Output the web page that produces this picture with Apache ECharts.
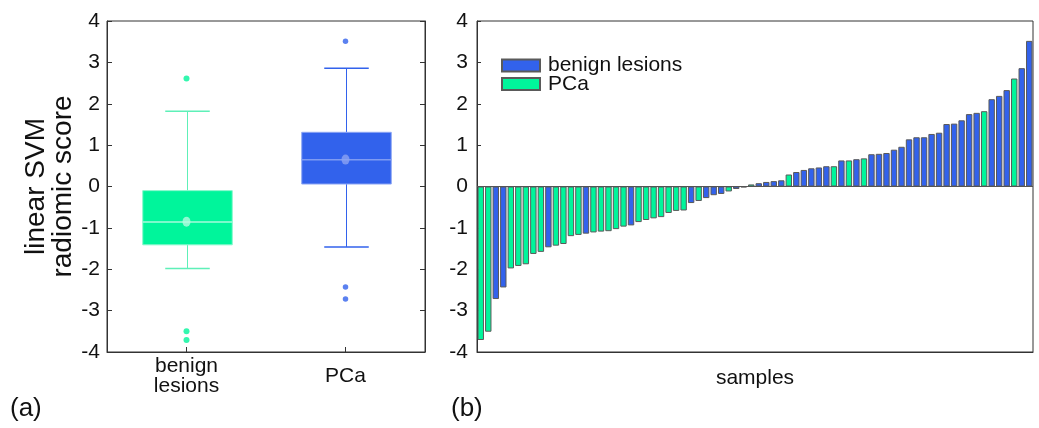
<!DOCTYPE html>
<html><head><meta charset="utf-8">
<script src="https://cdn.jsdelivr.net/npm/echarts@6/dist/echarts.min.js"></script>
<style>html,body{margin:0;padding:0;background:#fff}#c{width:1039px;height:428px}</style>
</head><body><div id="c"></div>
<script>
// ---- data ----
const boxCategories = ['benign\nlesions', 'PCa'];
// [lower whisker, Q1, median, Q3, upper whisker]
const benignBox = [-1.98, -1.41, -0.855, -0.10, 1.82];
const pcaBox = [-1.46, 0.06, 0.645, 1.31, 2.86];
const benignOutliers = [2.61, -3.50, -3.71];
const pcaOutliers = [3.51, -2.43, -2.72];
const boxMeans = [-0.85, 0.65];

const legendNames = ['benign lesions', 'PCa'];
const sampleScores = [
  -3.71, -3.51, -2.72, -2.44, -1.98, -1.92, -1.88, -1.63, -1.58, -1.47,
  -1.43, -1.39, -1.20, -1.17, -1.14, -1.11, -1.09, -1.08, -1.03, -0.97,
  -0.94, -0.86, -0.81, -0.77, -0.74, -0.64, -0.59, -0.58, -0.40, -0.35,
  -0.28, -0.21, -0.18, -0.12, -0.06, -0.02, 0.05, 0.08, 0.11, 0.13,
  0.15, 0.29, 0.35, 0.40, 0.44, 0.46, 0.49, 0.49, 0.63, 0.63,
  0.66, 0.68, 0.78, 0.79, 0.81, 0.89, 0.96, 1.14, 1.19, 1.19,
  1.27, 1.30, 1.51, 1.52, 1.60, 1.75, 1.78, 1.82, 2.11, 2.19,
  2.33, 2.61, 2.86, 3.52
];
// B = benign lesions legend colour (blue), P = PCa legend colour (green)
const sampleGroups = [
  'P','P','B','B','P','P','P','P','P','B',
  'P','P','P','P','B','P','P','P','P','P',
  'B','P','P','P','P','P','P','P','B','P',
  'B','B','B','P','B','P','P','B','B','B',
  'B','P','B','B','B','B','B','P','B','P',
  'B','P','B','B','B','B','B','B','B','B',
  'B','B','B','B','B','B','B','P','B','B',
  'B','P','B','B'
];

// ---- styles ----
const GREEN = '#00F59B', BLUE = '#3262EC';
const boxStyles = [
  {fill: GREEN, border: '#86F8CC', median: '#A6FADB', whisker: '#5EF0B8'},
  {fill: BLUE, border: '#8DA6F4', median: '#7F9BF2', whisker: BLUE}
];
const FONT = "'Liberation Sans', Arial, sans-serif";
const FS = 21;

function renderBox(params, api) {
  const idx = api.value(0);
  const low = api.coord([idx, api.value(1)]);
  const q1 = api.coord([idx, api.value(2)]);
  const med = api.coord([idx, api.value(3)]);
  const q3 = api.coord([idx, api.value(4)]);
  const high = api.coord([idx, api.value(5)]);
  const band = api.size([1, 0])[0];
  const bw = band * 0.563, cw = band * 0.28;
  const st = boxStyles[idx];
  const x = Math.round(low[0]) + 0.5;
  return {type: 'group', children: [
    {type: 'line', shape: {x1: x, y1: high[1], x2: x, y2: q3[1]}, style: {stroke: st.whisker, lineWidth: 1}},
    {type: 'line', shape: {x1: x, y1: q1[1], x2: x, y2: low[1]}, style: {stroke: st.whisker, lineWidth: 1}},
    {type: 'line', shape: {x1: x - cw / 2, y1: high[1], x2: x + cw / 2, y2: high[1]}, style: {stroke: st.whisker, lineWidth: 1.5}},
    {type: 'line', shape: {x1: x - cw / 2, y1: low[1], x2: x + cw / 2, y2: low[1]}, style: {stroke: st.whisker, lineWidth: 1.5}},
    {type: 'rect', shape: {x: x - bw / 2, y: q3[1], width: bw, height: q1[1] - q3[1]}, style: {fill: st.fill, stroke: st.border, lineWidth: 1}},
    {type: 'line', shape: {x1: x - bw / 2, y1: med[1], x2: x + bw / 2, y2: med[1]}, style: {stroke: st.median, lineWidth: 1.5}}
  ]};
}

const chart = echarts.init(document.getElementById('c'), null, {renderer: 'canvas'});
const axisCol = '#333';
const valueAxisBase = {
  type: 'value', min: -4, max: 4, interval: 1,
  splitLine: {show: false},
  axisLine: {show: true, lineStyle: {color: axisCol, width: 1}},
  axisTick: {show: true, inside: true, length: 5, lineStyle: {color: axisCol}},
};

chart.setOption({
  animation: false,
  textStyle: {fontFamily: FONT},
  grid: [
    {left: 107, top: 21, width: 318, height: 331, show: true, borderColor: axisCol, borderWidth: 1, backgroundColor: 'transparent'},
    {left: 477, top: 21, width: 556, height: 331, show: true, borderColor: axisCol, borderWidth: 1, backgroundColor: 'transparent'}
  ],
  legend: {
    data: legendNames, orient: 'vertical', left: 501, top: 55, padding: 0,
    itemWidth: 38, itemHeight: 12, itemGap: -2.5, icon: 'rect',
    textStyle: {fontSize: FS, lineHeight: 15, color: '#111', fontFamily: FONT, padding: [0, 0, 2, 3]}
  },
  xAxis: [
    {type: 'category', gridIndex: 0, data: boxCategories, boundaryGap: true,
     axisLine: {onZero: false, lineStyle: {color: axisCol}},
     axisTick: {show: true, inside: true, alignWithLabel: true, length: 5, lineStyle: {color: axisCol}},
     axisLabel: {fontSize: FS, color: '#111', lineHeight: 20, verticalAlign: 'middle', margin: 24, fontFamily: FONT}},
    {type: 'category', gridIndex: 1, data: sampleScores.map((_, i) => String(i + 1)), boundaryGap: true,
     axisLine: {onZero: false, lineStyle: {color: axisCol}},
     axisTick: {show: false}, axisLabel: {show: false},
     name: 'samples', nameLocation: 'middle', nameGap: 26,
     nameTextStyle: {fontSize: FS, color: '#111', verticalAlign: 'middle', fontFamily: FONT}}
  ],
  yAxis: [
    Object.assign({}, valueAxisBase, {gridIndex: 0,
      axisLabel: {fontSize: FS, color: '#111', margin: 7, fontFamily: FONT},
      name: 'linear SVM\nradiomic score', nameLocation: 'middle', nameGap: 56,
      nameTextStyle: {fontSize: 28, lineHeight: 27, color: '#111', align: 'center', verticalAlign: 'middle', fontFamily: FONT}}),
    Object.assign({}, valueAxisBase, {gridIndex: 0, position: 'right', axisLabel: {show: false}}),
    Object.assign({}, valueAxisBase, {gridIndex: 1, axisTick: {show: true, inside: true, length: 4, lineStyle: {color: axisCol}},
      axisLabel: {fontSize: FS, color: '#111', margin: 9, fontFamily: FONT}})
  ],
  graphic: [
    {type: 'text', left: 10, top: 396, style: {text: '(a)', fontSize: 26, fill: '#111', fontFamily: FONT}},
    {type: 'text', left: 451, top: 396, style: {text: '(b)', fontSize: 26, fill: '#111', fontFamily: FONT}}
  ],
  series: [
    {type: 'custom', xAxisIndex: 0, yAxisIndex: 0, renderItem: renderBox,
     encode: {x: 0, y: [1, 2, 3, 4, 5]},
     data: [[0].concat(benignBox), [1].concat(pcaBox)], z: 2},
    {type: 'scatter', xAxisIndex: 0, yAxisIndex: 0, symbol: 'circle', symbolSize: 6,
     itemStyle: {color: GREEN}, data: benignOutliers.map(v => [0, v]), z: 3},
    {type: 'scatter', xAxisIndex: 0, yAxisIndex: 0, symbol: 'circle', symbolSize: 5.5,
     itemStyle: {color: BLUE}, data: pcaOutliers.map(v => [1, v]), z: 3},
    {type: 'scatter', xAxisIndex: 0, yAxisIndex: 0, symbol: 'circle', symbolSize: [8, 10],
     itemStyle: {color: function (p) { return p.dataIndex === 0 ? '#B3FBE0' : '#8BA2F2'; }},
     data: boxMeans.map((v, i) => [i, v]), z: 4},
    {name: legendNames[0], type: 'bar', xAxisIndex: 1, yAxisIndex: 2,
     data: sampleScores.map((v, i) => sampleGroups[i] === 'B' ? v : '-'),
     barWidth: 6.4, barGap: '-100%',
     itemStyle: {color: BLUE, borderColor: '#5a5a5a', borderWidth: 1},
     markLine: {silent: true, symbol: 'none', label: {show: false},
       lineStyle: {color: '#555', width: 1, type: 'solid'}, data: [{yAxis: 0}]}},
    {name: legendNames[1], type: 'bar', xAxisIndex: 1, yAxisIndex: 2,
     data: sampleScores.map((v, i) => sampleGroups[i] === 'P' ? v : '-'),
     barWidth: 6.4, barGap: '-100%',
     itemStyle: {color: GREEN, borderColor: '#5a5a5a', borderWidth: 1}}
  ]
});
</script>
</body></html>
